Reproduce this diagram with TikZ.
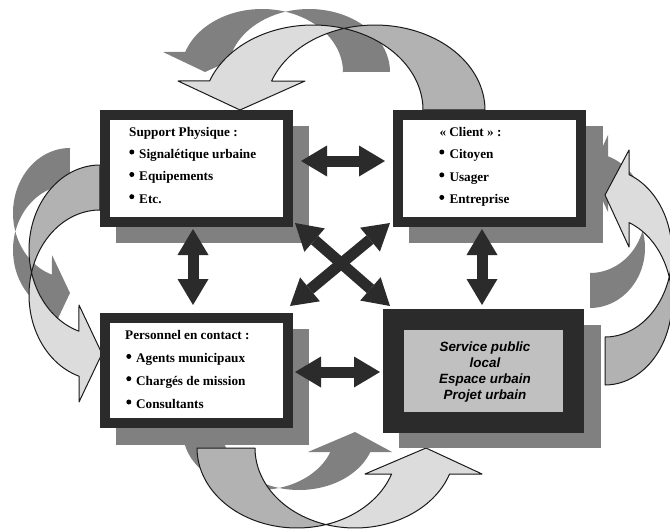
\documentclass[tikz,border=0pt]{standalone}
\usepackage{fontspec}
\setmainfont{Liberation Serif}
\newfontfamily\arialfont{Liberation Sans}
\usetikzlibrary{arrows.meta}
\definecolor{dk}{HTML}{2B2B2B}
\definecolor{shd}{HTML}{808080}
\definecolor{lt}{HTML}{DCDCDC}
\definecolor{md}{HTML}{B2B2B2}
\definecolor{inn}{HTML}{C0C0C0}
\definecolor{ol}{HTML}{1A1A1A}
\tikzset{
  ea/.style args={#1/#2/#3/#4/#5/#6}{insert path={plot[domain=0:1,samples=40] ({(#1)+(#3)*cos((#5)+((#6)-(#5))*\x)},{(#2)+(#4)*sin((#5)+((#6)-(#5))*\x)})}},
  eb/.style args={#1/#2/#3/#4/#5/#6}{insert path={-- plot[domain=0:1,samples=40] ({(#1)+(#3)*cos((#5)+((#6)-(#5))*\x)},{(#2)+(#4)*sin((#5)+((#6)-(#5))*\x)})}},
  backarrow/.style={fill=shd},
  lightpart/.style={fill=lt, draw=ol, line width=1pt, line join=round},
  midpart/.style={fill=md, draw=ol, line width=1pt, line join=round},
  boxshadow/.style={fill=shd},
  frame/.style={draw=dk, line width=10pt, fill=white, inner sep=0pt, outer sep=0pt, minimum width=183pt},
  dbl/.style={draw=dk, line width=11pt,
     {Triangle[length=26pt,width=31pt,line width=0pt]}-{Triangle[length=26pt,width=31pt,line width=0pt]}},
  hd/.style={anchor=base west, inner sep=0pt, font=\fontsize{13.2}{15}\selectfont\bfseries},
  srv/.style={anchor=base, inner sep=0pt, font=\fontsize{13.4}{15}\selectfont\arialfont\bfseries\itshape},
  bul/.style={fill=black}
}
\begin{document}
\begin{tikzpicture}[x=1pt,y=-1pt]
\useasboundingbox (0,0) rectangle (670,530);

% ---- back (shadow) curved arrows
\fill[backarrow] [ea=262/72/81/63/-73.1/-161.5] -- (163,52) -- (205,72) -- (250,52) -- (232.2,52) [eb=309/72/81/63/-161.5/-106.9] -- cycle;
\fill[backarrow] [ea=309/72/81/63/-106.9/0] -- (343,72) [eb=262/72/81/63/0/-73.1] -- cycle;

\fill[backarrow] [ea=70/213/57/65/-90/-196.5] [eb=70/250/57/65/-163.5/-90] -- cycle;
\fill[backarrow] [ea=70/213/57/65/163.5/108.4] -- (52,255) -- (70,293) -- (52,331) -- (52,311.7) [eb=70/250/57/65/108.4/196.5] -- cycle;

\fill[backarrow] [ea=590/248/55/60/90/-16.96] [eb=590/213/55/60/16.96/90] -- cycle;
\fill[backarrow] [ea=590/213/55/60/16.96/-70.9] -- (608,135) -- (590,174) -- (608,212) -- (608,191.3) [eb=590/248/55/60/-70.9/-16.96] -- cycle;

\fill[backarrow] [ea=259/432/76/58/180/74.7] [eb=299/432/76/58/105.3/180] -- cycle;
\fill[backarrow] [ea=259/432/76/58/74.7/20.2] -- (308,452) -- (355,432) -- (392,452) -- (370.3,452) [eb=299/432/76/58/20.2/105.3] -- cycle;

% ---- front curved arrows
% top
\filldraw[midpart] [ea=375/110/110/85/-106.4/0] -- (423,110) [eb=313/110/110/85/0/-73.6] -- cycle;
\filldraw[lightpart] [ea=313/110/110/85/-73.6/-160.05] -- (178,81) -- (240,110) -- (305,81) -- (271.6,81) [eb=375/110/110/85/-160.05/-106.4] -- cycle;
% left
\filldraw[midpart] [ea=100/250/71/85/-90/-195.35] [eb=100/295/71/85/-164.65/-90] -- cycle;
\filldraw[lightpart] [ea=100/250/71/85/164.65/107.2] -- (79,305) -- (102,353.7) -- (79,402) -- (79,376.2) [eb=100/295/71/85/107.2/195.35] -- cycle;
% right
\filldraw[midpart] [ea=605/301/67/84/90/-16.6] [eb=605/253/67/84/16.6/90] -- cycle;
\filldraw[lightpart] [ea=605/253/67/84/16.6/-69.01] -- (629,150) -- (605,195) -- (629,247) -- (629,222.6) [eb=605/301/67/84/-69.01/-16.6] -- cycle;
% bottom
\filldraw[midpart] [ea=297/448/100/80/180/73.1] [eb=355/448/100/80/106.9/180] -- cycle;
\filldraw[lightpart] [ea=297/448/100/80/73.1/18.97] -- (365,474) -- (426,448) -- (482,474) -- (449.6,474) [eb=355/448/100/80/18.97/106.9] -- cycle;

% ---- box shadows
\fill[boxshadow] (116,126) rectangle (309,243);
\fill[boxshadow] (409,126) rectangle (603,243);
\fill[boxshadow] (116,329) rectangle (309,445);
\fill[boxshadow] (399,325) rectangle (601,448);

% ---- boxes
\node[frame, minimum height=107pt] (tl) at (196.5,168.5) {};
\node[frame, minimum height=107pt] (tr) at (489.5,168.5) {};
\node[frame, minimum height=105pt] (bl) at (196.5,370.5) {};
\node[draw=dk, line width=21pt, fill=inn, inner sep=0pt, outer sep=0pt, minimum width=180pt, minimum height=103pt] (br) at (483.5,371) {};

% ---- straight double arrows
\coordinate (h1a) at (301,161); \coordinate (h1b) at (385,161);
\coordinate (h2a) at (295,372); \coordinate (h2b) at (380,372);
\coordinate (v1a) at (193,229); \coordinate (v1b) at (193,305);
\coordinate (v2a) at (482,229); \coordinate (v2b) at (482,305);
\coordinate (d1a) at (295,223); \coordinate (d1b) at (390,306);
\coordinate (d2a) at (390,223); \coordinate (d2b) at (290,306);
\draw[dbl] (h1a) -- (h1b);
\draw[dbl] (h2a) -- (h2b);
\draw[dbl] (v1a) -- (v1b);
\draw[dbl] (v2a) -- (v2b);
\draw[dbl] (d1a) -- (d1b);
\draw[dbl] (d2a) -- (d2b);

% ---- texts
\node[hd] (tlh) at (129,136) {Support Physique :};
\node[hd] (tl1) at (139,158.3) {Signalétique urbaine};
\node[hd] (tl2) at (139,180.8) {Equipements};
\node[hd] (tl3) at (139,203) {Etc.};
\fill[bul] (131.8,152) circle (2.5);
\fill[bul] (131.8,174.5) circle (2.5);
\fill[bul] (131.8,196.7) circle (2.5);

\node[hd] (trh) at (439.3,136) {« Client » :};
\node[hd] (tr1) at (449.3,158.3) {Citoyen};
\node[hd] (tr2) at (449.3,181.2) {Usager};
\node[hd] (tr3) at (449.3,203.7) {Entreprise};
\fill[bul] (441.8,152) circle (2.5);
\fill[bul] (441.8,174.9) circle (2.5);
\fill[bul] (441.8,197.4) circle (2.5);

\node[hd] (blh) at (125,339.3) {Personnel en contact :};
\node[hd] (bl1) at (136,362.7) {Agents municipaux};
\node[hd] (bl2) at (136,385) {Chargés de mission};
\node[hd] (bl3) at (136,408.3) {Consultants};
\fill[bul] (128.8,356.4) circle (2.5);
\fill[bul] (128.8,378.7) circle (2.5);
\fill[bul] (128.8,402) circle (2.5);

\node[srv] (s1) at (485,351.7) {Service public};
\node[srv] (s2) at (485,367.3) {local};
\node[srv] (s3) at (485,383.5) {Espace urbain};
\node[srv] (s4) at (485,399.3) {Projet urbain};
\end{tikzpicture}
\end{document}
